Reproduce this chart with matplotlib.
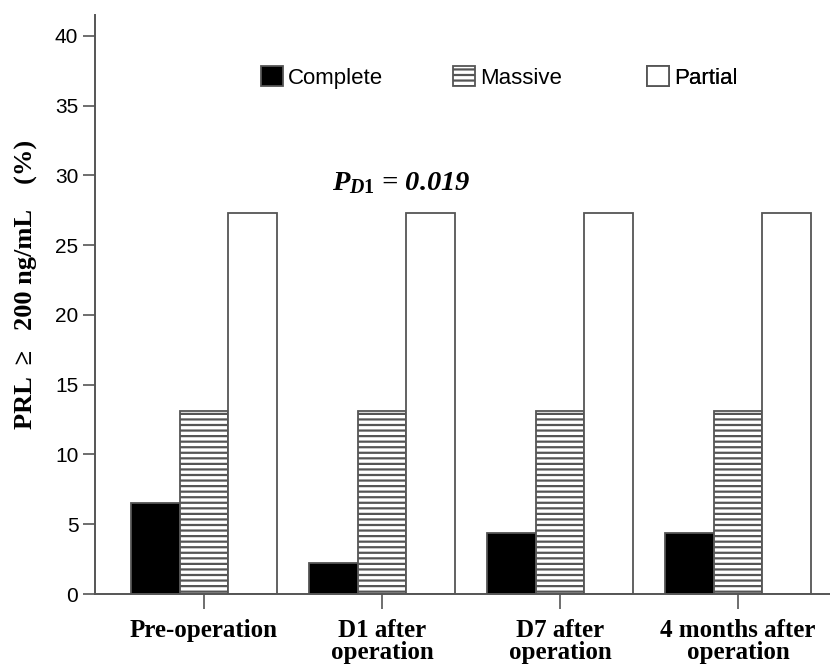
import matplotlib
matplotlib.use('Agg')
import matplotlib.pyplot as plt
import numpy as np

plt.rcParams['hatch.linewidth'] = 1.6
plt.rcParams['hatch.color'] = '#777777'
plt.rcParams['mathtext.fontset'] = 'custom'
plt.rcParams['mathtext.it'] = 'Liberation Serif:italic:bold'
plt.rcParams['mathtext.rm'] = 'Liberation Serif:bold'

categories = ['Pre-operation', 'D1 after\noperation', 'D7 after\noperation', '4 months after\noperation']
series = ['Complete', 'Massive', 'Partial']
complete = [6.5, 2.2, 4.4, 4.4]
massive = [13.1, 13.1, 13.1, 13.1]
partial = [27.3, 27.3, 27.3, 27.3]
yticks = [0, 5, 10, 15, 20, 25, 30, 35, 40]

fig = plt.figure(figsize=(8.3, 6.66), dpi=100)
ax = fig.add_axes([95 / 830, 1 - 594 / 666, 735 / 830, (594 - 15) / 666])

x = np.arange(len(categories))
w = 0.273
edge = '#555555'
b1 = ax.bar(x - w, complete, w, color='black', edgecolor=edge, linewidth=1.3, label=series[0])
b2 = ax.bar(x, massive, w, color='white', edgecolor=edge, linewidth=1.3, hatch='---', label=series[1])
b3 = ax.bar(x + w, partial, w, color='white', edgecolor=edge, linewidth=1.3, label=series[2])

ax.set_xlim(-0.612, 3.517)
ax.set_ylim(0, 41.5)
ax.set_yticks(yticks)
ax.set_xticks(x)
ax.set_xticklabels(categories, family='Liberation Serif', fontweight='bold',
                   fontsize=18, linespacing=0.95)
for lab in ax.get_yticklabels():
    lab.set_family('Liberation Sans')
    lab.set_fontsize(15)

for s in ['top', 'right']:
    ax.spines[s].set_visible(False)
for s in ['left', 'bottom']:
    ax.spines[s].set_color('#555555')
    ax.spines[s].set_linewidth(1.4)
ax.tick_params(axis='y', direction='out', length=9, width=1.2, color='#555555', pad=3)
ax.tick_params(axis='x', direction='out', length=11, width=1.2, color='#555555', pad=7)

ax.set_ylabel('PRL  \u2265   200 ng/mL    (%)', family='Liberation Serif', fontweight='bold',
              fontsize=19)
ax.yaxis.set_label_coords(-0.077, 0.534)

# legend entries laid out like the original (evenly spaced)
for bars, lab, xpos in zip([b1, b2, b3], series, [261, 453, 647]):
    leg = ax.legend([bars], [lab], loc='center left',
                    bbox_to_anchor=((xpos - 95) / 735, (594 - 77.5) / 579),
                    frameon=False, handlelength=1.0, handleheight=1.0,
                    handletextpad=0.2, borderpad=0, borderaxespad=0,
                    prop={'family': 'Liberation Sans', 'size': 16})
    ax.add_artist(leg)

ax.text((332 - 95) / 735, (594 - 183) / 579, '$P_{\\mathit{D1}}$ = 0.019',
        transform=ax.transAxes, family='Liberation Serif', fontweight='bold',
        fontstyle='italic', fontsize=20.5, va='center', ha='left')

fig.savefig('out.png', dpi=100)
